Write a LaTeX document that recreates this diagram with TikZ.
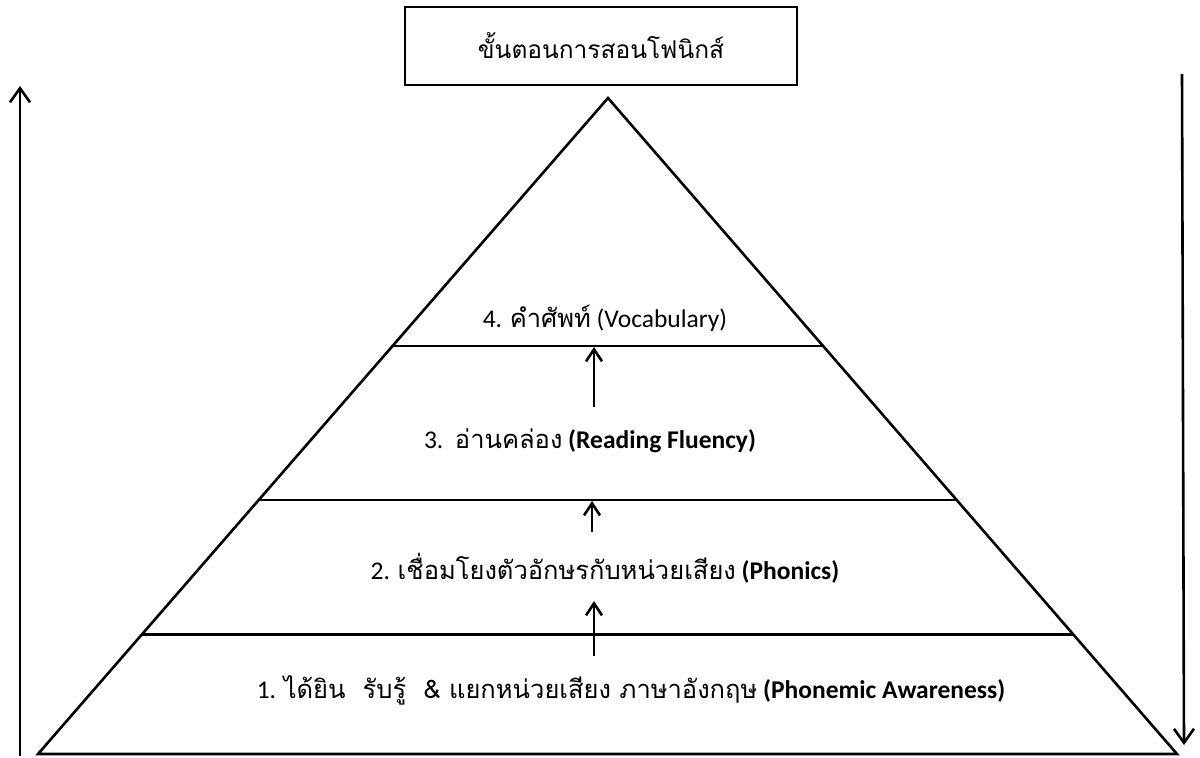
\documentclass[tikz,border=0pt]{standalone}
\usepackage{fontspec}
\setmainfont{Carlito}
\newfontfamily\thai[Script=Thai]{Loma}
\usetikzlibrary{arrows.meta,calc}
\begin{document}
\begin{tikzpicture}[
    x=1pt, y=-1pt,
    line width=2.6pt,
    titlebox/.style={rectangle, draw, minimum width=392pt, minimum height=78pt, font=\fontsize{24.5}{28}\selectfont},
    levellabel/.style={font=\fontsize{25.5}{30}\selectfont, inner sep=0pt},
    uparrow/.style={-{Straight Barb[length=12pt, width=16pt]}},
    sidearrow/.style={-{Straight Barb[length=14pt, width=20pt]}}
]
\useasboundingbox (0,0) rectangle (1200,758);
% title
\node[titlebox] (title) at (601,46) {\thai ขั้นตอนการสอนโฟนิกส์};
% pyramid
\coordinate (apex) at (608,98);
\coordinate (bl) at (38,754);
\coordinate (br) at (1177,754);
\draw[line join=miter] (apex) -- (bl) -- (br) -- cycle;
\draw ($(apex)!0.378!(bl)$) -- ($(apex)!0.378!(br)$);
\draw ($(apex)!0.613!(bl)$) -- ($(apex)!0.613!(br)$);
\draw ($(apex)!0.818!(bl)$) -- ($(apex)!0.818!(br)$);
% levels
\node[levellabel] (vocab) at (605,318) {4. {\thai คำศัพท์} (Vocabulary)};
\node[levellabel] (fluency) at (590,441) {3.\ \ {\thai อ่านคล่อง} \textbf{(Reading Fluency)}};
\node[levellabel] (phonics) at (605,568) {2. {\thai เชื่อมโยงตัวอักษรกับหน่วยเสียง} \textbf{(Phonics)}};
\node[levellabel] (aware) at (631,690) {1. {\thai ได้ยิน\ \ รับรู้\ \ \&\ แยกหน่วยเสียง ภาษาอังกฤษ} \textbf{(Phonemic Awareness)}};
% arrows between levels
\coordinate (a1) at (594,656);
\coordinate (a1t) at (594,601);
\coordinate (a2) at (592,532);
\coordinate (a2t) at (592,501);
\coordinate (a3) at (594,407);
\coordinate (a3t) at (594,347);
\draw[uparrow] (a1) -- (a1t);
\draw[uparrow] (a2) -- (a2t);
\draw[uparrow] (a3) -- (a3t);
% side arrows
\coordinate (lbot) at (20,756);
\coordinate (ltop) at (20,86);
\coordinate (rtop) at (1182,74);
\coordinate (rbot) at (1184,745);
\draw[sidearrow] (lbot) -- (ltop);
\draw[sidearrow] (rtop) -- (rbot);
\end{tikzpicture}
\end{document}
